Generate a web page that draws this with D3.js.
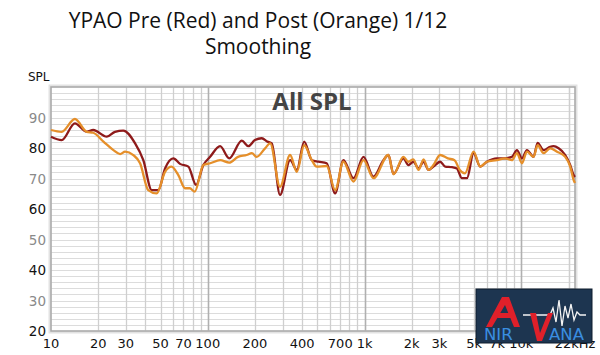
<!DOCTYPE html>
<html><head><meta charset="utf-8">
<script src="https://cdn.jsdelivr.net/npm/d3@7/dist/d3.min.js"></script>
<style>body{margin:0;background:#fff}svg{display:block}</style>
</head><body>
<script>
const preFreq=[10,11.7,14.2,16.9,18.6,22.7,25.6,28.9,34.4,38.8,43.9,48.4,53.4,60.3,66.5,75.2,84.2,93.7,103.5,119.8,137,164.8,181.6,200,221,240,256,289,335,370,412,461,508,574,649,733,850,985,1140,1320,1420,1530,1770,1905,2050,2210,2380,2560,2750,3035,3270,3610,3880,4180,4500,4960,5470,6030,6980,7690,8710,9380,10090,10860,11970,12700,13870,15280,16070,17300,19060,20520,21570,22000];
const preSPL=[83.7,82.6,88.1,85.3,85.9,83.7,85.3,85.7,81.5,76,66.2,66.2,73.3,76.6,74.8,73.9,67.9,74.4,77.1,80.6,76.6,82.4,80.6,82.6,83.2,82.1,81.5,64.6,76,72.8,82.1,76,75.5,75,65.1,76,70.1,77.1,70.6,76,77.7,71.5,76.6,74.4,75.5,73.3,75.5,72.8,73.9,75.5,73.9,73.7,73.3,70.1,70.1,78.3,73.9,75.5,76.6,76.6,77.1,79.3,76.6,79.3,77.1,81.7,79.3,80.4,80.6,79.9,77.7,74.4,71.1,70.5];
const postFreq=[10,11.7,14.2,16.9,18.6,21.6,25,27.6,29.7,33.5,37,41.7,47.2,53.4,58.7,64.9,71.6,76.8,82.6,93.7,103.5,120,137,156,177,191,205,232,250,289,335,370,412,461,495,574,649,733,850,985,1140,1420,1530,1770,1905,2050,2210,2380,2560,2750,3035,3400,3750,4050,4370,4960,5470,6030,6980,7900,8710,9380,10090,10860,11970,12700,13870,15280,16900,19060,20520,21570,22000];
const postSPL=[85.9,85.3,89.5,85.3,85,82.1,79.3,78,78.8,77.7,75,66.2,65.1,72.2,73.9,71.1,66.8,66.8,65.7,74.4,75,76,75.2,77.1,77.7,78.3,77.1,79.9,81.5,67.3,77.7,72.2,80.9,76,73.9,74.1,66.2,75.5,69,76,70.1,77.7,71.4,77.1,75.5,76.3,72.8,76.3,72.8,74.4,77.7,76.6,76,72.8,71.7,78.8,73.9,75.5,76,76.6,76,78.3,75,78.8,77.1,80.9,78.3,79.9,78.8,77.1,73.9,69.5,68.5];
const xTickValues=[10,20,30,50,70,100,200,400,700,1000,2000,3000,5000,7000,10000,22000];
const xTickLabels=["10","20","30","50","70","100","200","400","700","1k","2k","3k","5k","7k","10k","22kHz"];
const yTickValues=[20,30,40,50,60,70,80,90];
const titleLines=["YPAO Pre (Red) and Post (Orange) 1/12","Smoothing"];

const W=600,H=355;
const svg=d3.select("body").append("svg").attr("width",W).attr("height",H);
const x=d3.scaleLog().domain([10,22000]).range([51,575]);
const y=d3.scaleLinear().domain([20,100]).range([331,87]);

// title
svg.selectAll("text.title").data(titleLines).join("text")
  .attr("x",258).attr("y",(d,i)=>28+i*26).attr("text-anchor","middle")
  .style("font-family","'Open Sans',sans-serif").style("font-size","21px").attr("fill","#111").text(d=>d);

// plot bg
svg.append("rect").attr("x",51).attr("y",87).attr("width",524).attr("height",244).attr("fill","#fff");

// horizontal grid every 2 dB
const hg=d3.range(22,100,2);
svg.append("g").selectAll("line").data(hg).join("line")
  .attr("x1",51).attr("x2",575).attr("y1",d=>Math.round(y(d))+0.5).attr("y2",d=>Math.round(y(d))+0.5)
  .attr("stroke","#dcdcdc").attr("stroke-width",1);

// vertical grid
const vg=[];
[10,100,1000,10000].forEach(dec=>{for(let k=1;k<10;k++){const f=dec*k;if(f>10&&f<22000)vg.push(f);}});
vg.push(20000);
svg.append("g").selectAll("line").data(vg).join("line")
  .attr("x1",d=>Math.round(x(d))+0.5).attr("x2",d=>Math.round(x(d))+0.5).attr("y1",87).attr("y2",331)
  .attr("stroke",d=>[100,1000,10000].includes(d)?"#b0b0b0":"#cfcfcf").attr("stroke-width",d=>[100,1000,10000].includes(d)?1.6:1.3);

// frame
svg.append("rect").attr("x",50).attr("y",86).attr("width",526).attr("height",246).attr("fill","none").attr("stroke","#e2e2e2").attr("stroke-width",3);
svg.append("rect").attr("x",51).attr("y",87).attr("width",524).attr("height",244).attr("fill","none").attr("stroke","#a8a8a8").attr("stroke-width",1.5);

// All SPL
svg.append("text").attr("x",312).attr("y",110).attr("text-anchor","middle")
  .style("font-family","'Open Sans',sans-serif").style("font-weight","bold").style("font-size","24px").attr("fill","#444").text("All SPL");

// lines
const line=d3.line().x(d=>x(d[0])).y(d=>y(d[1])).curve(d3.curveMonotoneX);
const pre=preFreq.map((f,i)=>[f,preSPL[i]]);
const post=postFreq.map((f,i)=>[f,postSPL[i]]);
svg.append("path").attr("d",line(pre)).attr("fill","none").attr("stroke","#8e1a1a").attr("stroke-width",2.3).attr("stroke-linejoin","round");
svg.append("path").attr("d",line(post)).attr("fill","none").attr("stroke","#e58f2a").attr("stroke-width",2.3).attr("stroke-linejoin","round");

// y axis labels
svg.selectAll("text.ylab").data(yTickValues).join("text")
  .attr("x",46).attr("y",d=>y(d)+5).attr("text-anchor","end")
  .style("font-family","'DejaVu Sans',sans-serif").style("font-size","13.5px")
  .attr("fill",d=>(d/10)%2===0?"#111":"#8a8a8a").text(d=>d);
svg.append("text").attr("x",28).attr("y",81).style("font-family","'DejaVu Sans',sans-serif").style("font-size","12px").attr("fill","#111").text("SPL");

// x axis labels
svg.selectAll("text.xlab").data(xTickValues).join("text")
  .attr("x",d=>x(d)).attr("y",348).attr("text-anchor","middle")
  .style("font-family","'DejaVu Sans',sans-serif").style("font-size","13px").attr("fill","#111")
  .text((d,i)=>xTickLabels[i]);

// logo
const lg=svg.append("g");
lg.append("rect").attr("x",476).attr("y",289).attr("width",116).attr("height",54).attr("fill","#1d3550").attr("stroke","#0e1c2c").attr("stroke-width",1);
lg.append("path").attr("d","M523,315 L550,315 L553,308 L556,322 L559,300 L562,326 L565,306 L568,318 L571,304 L574,320 L577,312 L580,315 L586,315").attr("fill","none").attr("stroke","#f4f4f4").attr("stroke-width",1.3);
lg.append("path").attr("d","M486,327 L502,297 L509,297 L520,327 L514,327 L505,305 L492,327 Z").attr("fill","#e0202a");
lg.append("path").attr("d","M497,318 L513,318 L511,313 L499,313 Z").attr("fill","#e0202a");
lg.append("path").attr("d","M530,313 L536,313 L540,333 L548,313 L553,313 L542,341 L537,341 Z").attr("fill","#e0202a");
lg.append("text").attr("x",484).attr("y",340).style("font-family","'DejaVu Sans',sans-serif").style("font-size","16.5px").attr("fill","#3a8ee0").text("NIR");
lg.append("text").attr("x",549).attr("y",340).style("font-family","'DejaVu Sans',sans-serif").style("font-size","16.5px").attr("fill","#3a8ee0").text("ANA");
</script>
</body></html>
